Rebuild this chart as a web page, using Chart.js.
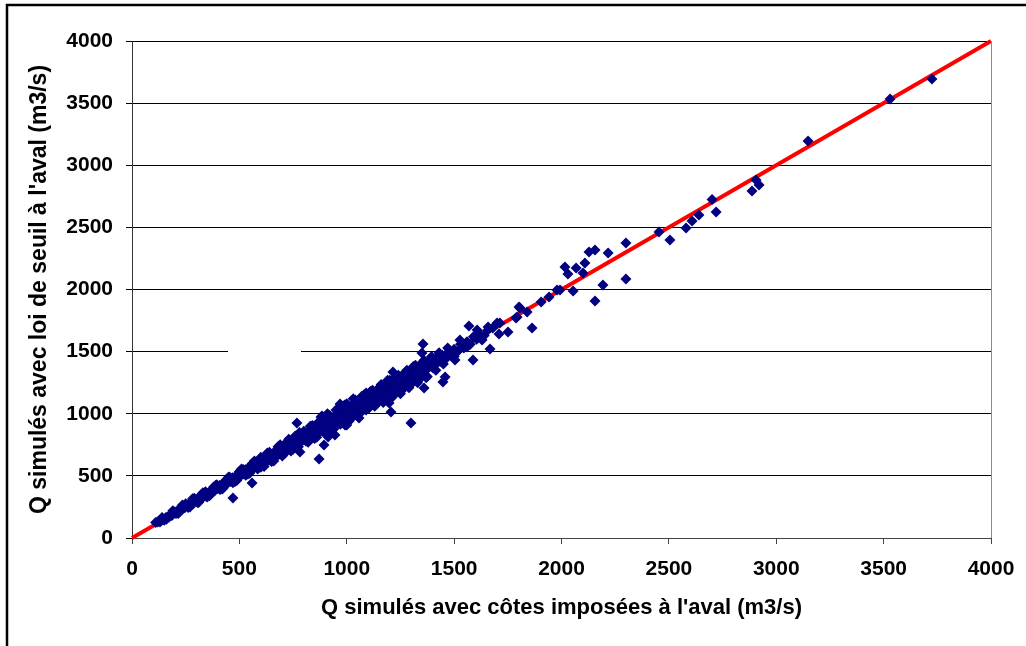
<!DOCTYPE html>
<html>
<head>
<meta charset="utf-8">
<script src="https://cdn.jsdelivr.net/npm/chart.js@4.4.1/dist/chart.umd.min.js"></script>
<style>
  html, body { margin: 0; padding: 0; background: #fff; }
  #wrap { width: 1026px; height: 646px; position: relative; }
</style>
</head>
<body>
<div id="wrap"><canvas id="c" width="1026" height="646"></canvas></div>
<script>
// X: Q simulés avec côtes imposées à l'aval (m3/s)
const qImposed = [
  110,118,125,130,138,145,150,158,165,172,180,186,193,200,205,212,220,226,233,240,246,252,260,266,273,280,286,293,300,306,314,320,327,334,340,348,355,362,370,378,385,392,400,408,415,422,430,438,445,452,460,468,475,483,490,498,
  505,512,520,528,535,542,550,556,563,570,578,585,592,600,607,614,622,630,637,645,652,660,667,675,682,690,697,705,712,720,727,735,742,750,757,765,772,780,788,795,802,810,818,825,832,840,848,855,862,870,878,885,892,900,908,915,922,930,938,945,952,960,968,975,982,990,998,
  1005,1012,1020,1028,1035,1042,1050,1058,1065,1072,1080,1088,1095,1102,1110,1118,1125,1132,1140,1148,1155,1162,1170,1178,1185,1192,1200,1208,1215,1222,1230,1238,1245,1252,1260,1268,1275,1282,1290,1298,1305,1312,1320,1328,1335,1342,1350,1358,1365,1372,1380,
  1400,1410,1420,1435,1445,1460,1475,1490,1500,1515,1530,1545,1560,1575,1590,1605,1620,1640,1655,1680,
  320,350,380,410,440,470,500,530,560,585,
  600,615,640,660,680,700,720,740,760,775,800,820,840,860,880,900,920,940,960,980,1000,1020,1040,1060,1080,1100,1120,1140,1160,1180,1200,1220,1240,1260,1280,1300,1320,1340,1360,1375,1395,1415,1430,1450,1470,1500,
  250,270,290,310,330,360,390,420,450,480,510,540,570,600,630,650,690,710,730,750,780,810,830,850,870,890,910,930,950,970,990,1010,1030,1050,1070,1090,1110,1130,1150,1170,1190,1210,1230,1250,1270,1290,1310,1330,1345,1370,
  140,160,190,215,235,262,282,305,342,365,395,425,455,488,518,548,
  470,559,768,871,880,894,913,945,782,992,1057,1299,1206,1197,885,1090,969,1000,1253,
  1355,1569,1863,1751,1709,1667,1588,1504,1458,1448,1360,1215,1350,1802,1905,1793,1840,1388,1402,1607,1658,1527,1560,1630,1700,
  1713,1788,1807,1942,1979,1993,2054,
  2016,2030,2068,2109,2100,2128,2156,2217,2300,2300,2193,2156,2454,2505,2580,2608,2640,2720,2701,
  2887,2906,2920,3148,3530,3725
];
// Y: Q simulés avec loi de seuil à l'aval (m3/s)
const qSeuil = [
  125,128,135,128,145,150,142,165,170,168,190,182,200,210,198,222,218,235,230,250,244,262,258,278,270,292,280,305,298,318,310,332,322,348,336,362,350,375,366,392,380,405,398,422,410,438,424,452,440,468,455,484,470,498,486,515,
  500,535,515,550,528,565,540,580,555,598,570,612,585,628,598,640,612,660,625,675,642,688,655,705,670,718,688,735,700,748,715,765,730,780,745,795,760,812,775,828,790,845,800,860,815,875,830,890,845,905,860,920,875,938,890,955,900,968,915,985,930,1000,945,1015,960,1030,975,
  1040,985,1060,1000,1075,1020,1090,1035,1105,1050,1120,1065,1140,1080,1150,1095,1170,1110,1185,1125,1200,1140,1215,1160,1230,1175,1245,1190,1260,1205,1275,1220,1290,1235,1305,1250,1320,1265,1335,1280,1350,1295,1365,1310,1380,1325,1395,1340,1410,1355,1420,
  1430,1390,1450,1420,1470,1440,1500,1470,1520,1500,1560,1530,1580,1560,1620,1600,1640,1630,1670,1690,
  345,330,410,390,470,445,535,505,600,555,
  650,575,690,620,735,660,770,700,820,735,860,770,905,810,940,850,985,880,1040,930,1080,960,1110,1000,1150,1040,1190,1080,1235,1120,1270,1150,1310,1195,1350,1240,1390,1280,1430,1300,1460,1350,1490,1400,1530,1460,
  275,250,320,285,365,340,425,395,490,455,555,515,620,570,685,615,750,680,795,715,850,780,900,800,935,855,1000,870,1030,915,1070,940,1120,1000,1140,1030,1180,1060,1210,1090,1270,1130,1300,1160,1330,1210,1380,1250,1400,1290,
  165,150,220,198,265,245,315,285,372,348,428,402,488,462,552,522,
  322,443,926,636,974,749,813,829,692,910,966,926,1014,1087,982,1167,1078,910,1183,
  1561,1707,1690,1658,1642,1521,1433,1433,1296,1256,1207,1336,1489,1860,1900,1779,1819,1409,1368,1674,1698,1594,1537,1594,1730,
  1730,1771,1851,1940,1996,1996,1988,
  2181,2125,2173,2213,2133,2302,2318,2294,2375,2085,2037,1908,2463,2399,2495,2552,2600,2624,2725,
  2793,2882,2841,3195,3533,3694
];
// Reference line y = x
const lineX = [0, 4000];
const lineY = [0, 4000];
const tickValues = [0, 500, 1000, 1500, 2000, 2500, 3000, 3500, 4000];

const xTitle = "Q simulés avec côtes imposées à l'aval (m3/s)";
const yTitle = "Q simulés avec loi de seuil à l'aval (m3/s)";

const scatterPts = qImposed.map((x, i) => ({ x: x, y: qSeuil[i] }));
const linePts = lineX.map((x, i) => ({ x: x, y: lineY[i] }));

const frame = {
  id: 'frame',
  beforeDatasetsDraw(chart) {
    const { ctx, scales: { x, y } } = chart;
    ctx.save();
    ctx.fillStyle = '#fff';
    const x0 = x.getPixelForValue(447), x1 = x.getPixelForValue(787);
    const yy = y.getPixelForValue(1500);
    ctx.fillRect(x0, yy - 2, x1 - x0, 4);
    ctx.restore();
  },
  afterDraw(chart) {
    const { ctx, chartArea } = chart;
    ctx.save();
    ctx.strokeStyle = '#8c8c8c';
    ctx.lineWidth = 1;
    ctx.beginPath();
    ctx.moveTo(Math.round(chartArea.right) + 0.5, chartArea.top);
    ctx.lineTo(Math.round(chartArea.right) + 0.5, chartArea.bottom);
    ctx.stroke();
    ctx.strokeStyle = '#000';
    ctx.lineWidth = 2.5;
    ctx.beginPath();
    ctx.moveTo(7, 646);
    ctx.lineTo(7, 5);
    ctx.lineTo(1026, 5);
    ctx.stroke();
    ctx.restore();
  }
};

const fontFam = 'Liberation Sans, Arial, sans-serif';

new Chart(document.getElementById('c'), {
  type: 'scatter',
  data: {
    datasets: [
      {
        label: 'Q',
        data: scatterPts,
        pointStyle: 'rectRot',
        pointRadius: 5.5,
        backgroundColor: '#000080',
        borderColor: '#000080',
        borderWidth: 0,
        order: 0
      },
      {
        type: 'line',
        label: 'y=x',
        data: linePts,
        borderColor: '#ff0000',
        borderWidth: 4,
        pointRadius: 0,
        fill: false,
        clip: false,
        order: 1
      }
    ]
  },
  options: {
    responsive: false,
    animation: false,
    events: [],
    layout: { padding: { left: 0, right: 35, top: 41, bottom: 0 } },
    plugins: { legend: { display: false }, tooltip: { enabled: false } },
    scales: {
      x: {
        type: 'linear',
        min: 0, max: 4000,
        afterBuildTicks(s) { s.ticks = tickValues.map(v => ({ value: v })); },
        afterFit(s) { s.height = 108; s.paddingRight = 0; s.paddingLeft = 0; },
        grid: { drawOnChartArea: false, drawTicks: true, tickLength: 6, color: '#444', lineWidth: 1 },
        border: { display: true, color: '#444', width: 1 },
        ticks: {
          color: '#000', padding: 13,
          font: { family: fontFam, size: 21, weight: 'bold' },
          maxRotation: 0, autoSkip: false,
          callback: v => String(v)
        },
        title: {
          display: true, text: xTitle, color: '#000',
          font: { family: fontFam, size: 22, weight: 'bold' },
          padding: { top: 0, bottom: 25 }
        }
      },
      y: {
        type: 'linear',
        min: 0, max: 4000,
        afterBuildTicks(s) { s.ticks = tickValues.map(v => ({ value: v })); },
        afterFit(s) { s.width = 132; s.paddingTop = 0; s.paddingBottom = 0; },
        grid: { drawOnChartArea: true, drawTicks: true, tickLength: 6, color: '#000', lineWidth: 1 },
        border: { display: true, color: '#333', width: 1 },
        ticks: {
          color: '#000', padding: 13,
          font: { family: fontFam, size: 21, weight: 'bold' },
          autoSkip: false,
          callback: v => String(v)
        },
        title: {
          display: true, text: yTitle, color: '#000',
          font: { family: fontFam, size: 23, weight: 'bold' },
          padding: { top: 26, bottom: 0 }
        }
      }
    }
  },
  plugins: [frame]
});
</script>
</body>
</html>
